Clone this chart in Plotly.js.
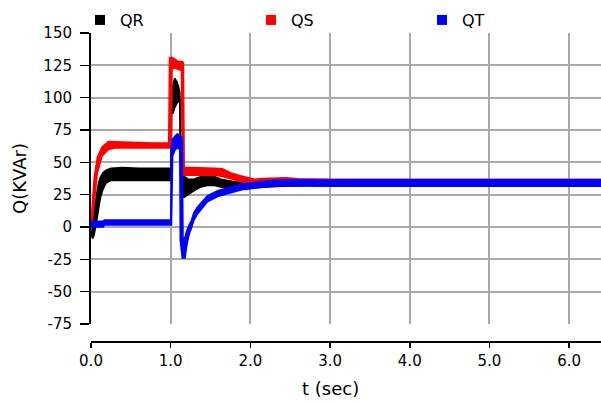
<!DOCTYPE html>
<html>
<head>
<meta charset="utf-8">
<script src="https://cdn.plot.ly/plotly-3.0.1.min.js"></script>
<style>
html, body { margin: 0; padding: 0; background: #ffffff; }
#chart { width: 601px; height: 402px; }
</style>
</head>
<body>
<div id="chart"></div>
<script>
// ---- data (band = lower / upper edge of the noisy trace) ----
const seriesNames = ['QR', 'QS', 'QT'];
const seriesColors = ['#000000', '#ff0000', '#0000ff'];

// QR (black)
const tQR = [0, 0.02, 0.04, 0.06, 0.08, 0.10, 0.12, 0.15, 0.19, 0.25, 0.40, 0.60, 0.80, 0.99, 1.005, 1.01, 1.03, 1.05, 1.08, 1.10, 1.115, 1.125, 1.17, 1.22, 1.29, 1.38, 1.46, 1.55, 1.63, 1.80, 1.95, 2.10, 2.40, 3.00, 4.00, 5.00, 6.40];
const qrLow = [-5, -9, -6, 0, 8, 16, 23, 29, 34, 36, 36, 36, 36, 36, 36, 88, 88, 92, 96, 97, 99, 24, 23, 25, 28, 31, 32, 32, 31, 29.5, 29.5, 30.5, 31.5, 32, 32, 32, 32];
const qrHigh = [0, 2, 12, 22, 29, 35, 39, 42, 44, 45.5, 46, 45.5, 45.5, 45.5, 45.5, 100, 110, 115, 112, 108, 104, 40, 39, 37, 37, 39, 39.5, 39, 37, 35, 34, 34, 35, 35, 35, 35, 35];

// QS (red)
const tQS = [0, 0.02, 0.04, 0.08, 0.14, 0.22, 0.30, 0.50, 0.75, 0.975, 0.985, 1.01, 1.017, 1.05, 1.09, 1.135, 1.145, 1.16, 1.17, 1.25, 1.40, 1.55, 1.65, 1.75, 1.85, 1.95, 2.05, 2.15, 2.30, 2.45, 2.60, 3.00, 4.00, 5.00, 6.40];
const qsLow = [-3, 5, 18, 42, 55, 60, 61, 61, 60.5, 60.5, 60.5, 61, 122, 123, 122, 121, 40, 40, 40, 40, 40, 40, 39, 37, 35.5, 34, 33, 33, 33.5, 33.5, 33, 33, 33, 33, 33];
const qsHigh = [3, 25, 38, 54, 62, 66, 66, 65.5, 65, 65, 131, 131, 131, 130, 128, 128, 128, 127, 46, 46, 46, 45.5, 45, 42, 40, 38.5, 37, 37.5, 38, 38, 37.3, 37, 37, 37, 37];

// QT (blue)
const tQT = [0, 0.15, 0.17, 1.00, 1.01, 1.025, 1.05, 1.08, 1.11, 1.115, 1.12, 1.145, 1.155, 1.18, 1.20, 1.23, 1.26, 1.29, 1.33, 1.38, 1.46, 1.59, 1.71, 1.89, 2.05, 2.25, 2.50, 3.00, 4.00, 5.00, 6.40];
const qtLow = [0, 0, 1.5, 1.5, 1.5, 55, 59, 61, 60, 60, -10, -24, -24, -24, -15, -6, -1, 5, 9.5, 13.5, 19.5, 23.5, 25.8, 28.8, 30, 31.5, 31.8, 31.5, 31.5, 31.5, 31.5];
const qtHigh = [4.5, 4.5, 5.5, 5.5, 62, 68, 70, 72, 71, 71, 71, 68, -10, -8, -3, 1.5, 5, 11, 15, 18.5, 24, 28, 30.2, 33.2, 34.5, 36, 36.5, 36.6, 36.6, 36.6, 36.6];

const xTickVals = [0, 1, 2, 3, 4, 5, 6];
const xTickText = ['0.0', '1.0', '2.0', '3.0', '4.0', '5.0', '6.0'];
const yTickVals = [-75, -50, -25, 0, 25, 50, 75, 100, 125, 150];
const yTickText = ['-75', '-50', '-25', '0', '25', '50', '75', '100', '125', '150'];

// ---- traces ----
function band(t, lo, hi, color, name) {
  return [
    { x: t, y: lo, type: 'scatter', mode: 'lines', line: { color: color, width: 1.5 },
      showlegend: false, hoverinfo: 'skip', name: name },
    { x: t, y: hi, type: 'scatter', mode: 'lines', line: { color: color, width: 1.5 },
      fill: 'tonexty', fillcolor: color, showlegend: false, hoverinfo: 'skip', name: name }
  ];
}
function legendEntry(name, color) {
  return { x: [null], y: [null], type: 'scatter', mode: 'markers', name: name,
    marker: { symbol: 'square', size: 10, color: color }, showlegend: true };
}

// drawing order: QR, QS, QT (blue on top)
const data = [].concat(
  band(tQR, qrLow, qrHigh, seriesColors[0], seriesNames[0]),
  band(tQS, qsLow, qsHigh, seriesColors[1], seriesNames[1]),
  band(tQT, qtLow, qtHigh, seriesColors[2], seriesNames[2]),
  [legendEntry(seriesNames[0], seriesColors[0]),
   legendEntry(seriesNames[1], seriesColors[1]),
   legendEntry(seriesNames[2], seriesColors[2])]
);

const gridColor = '#a9a9a9';
const layout = {
  width: 601, height: 402,
  margin: { l: 91, r: 0, t: 33, b: 60 },
  paper_bgcolor: '#ffffff', plot_bgcolor: '#ffffff',
  font: { family: 'DejaVu Sans, sans-serif', size: 15, color: '#000000' },
  showlegend: true,
  legend: {
    orientation: 'h', traceorder: 'normal', x: -0.0216, y: 1.097, xanchor: 'left', yanchor: 'top',
    font: { size: 16 }, entrywidth: 126, entrywidthmode: 'pixels',
    bgcolor: 'rgba(0,0,0,0)', borderwidth: 0
  },
  xaxis: {
    range: [0, 6.4], tickvals: xTickVals, ticktext: xTickText,
    anchor: 'free', position: 0,
    showline: true, linecolor: '#000000', linewidth: 2,
    ticks: 'outside', ticklen: 5, tickwidth: 1.5, tickcolor: '#000000',
    showgrid: true, gridcolor: gridColor, gridwidth: 2, zeroline: false,
    tickfont: { size: 15 }
  },
  yaxis: {
    domain: [0.0583, 1], range: [-75, 150], tickvals: yTickVals, ticktext: yTickText,
    showline: true, linecolor: '#000000', linewidth: 2,
    ticks: 'outside', ticklen: 9, tickwidth: 1.5, tickcolor: '#000000',
    showgrid: true, gridcolor: gridColor, gridwidth: 2, zeroline: false,
    ticklabelstandoff: 5, tickfont: { size: 15 },
    title: { text: 'Q(KVAr)', font: { size: 18 }, standoff: 12 }
  },
  annotations: [{
    text: 't (sec)', xref: 'paper', yref: 'paper', x: 0.469, y: -0.149,
    xanchor: 'center', yanchor: 'middle', showarrow: false, font: { size: 18 }
  }]
};

Plotly.newPlot('chart', data, layout, { staticPlot: true, displayModeBar: false });
</script>
</body>
</html>
